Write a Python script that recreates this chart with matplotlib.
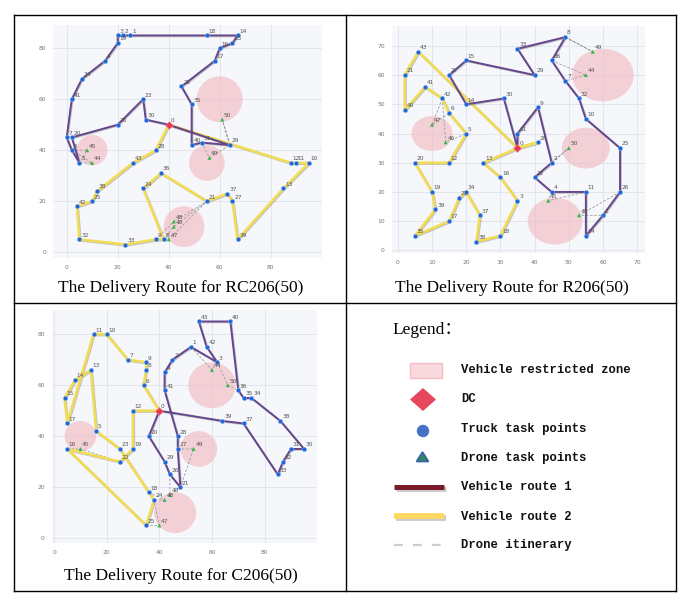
import matplotlib
matplotlib.use('Agg')
import matplotlib.pyplot as plt
from matplotlib.patches import Ellipse, Rectangle, Polygon, Circle
import matplotlib.patheffects as pe

W, H = 691, 603

# ---------------- data ----------------
zone_x = [60, 55, 10, 46]
zone_y = [60, 35, 40, 10]
zone_r = [9, 7, 6, 8]

# RC206(50)
rc_ids = [0, 1, 2, 3, 4, 5, 6, 7, 8, 9, 10, 11, 12, 13, 14, 15, 16, 17, 18, 19, 20, 21, 22, 23, 24, 25,
          26, 27, 28, 29, 30, 31, 32, 33, 34, 35, 36, 37, 38, 39, 40, 41, 42, 43, 44, 45, 46, 47, 48, 49, 50]
rc_x = [40, 25, 22, 20, 15, 5, 2, 0, 38, 35, 95, 90, 88, 85, 67, 65, 60, 58, 55, 20, 2, 55, 45, 30, 30, 10,
        20, 65, 35, 64, 31, 53, 5, 23, 6, 49, 37, 63, 12, 67, 49, 2, 4, 26, 10, 8, 42, 40, 42, 56, 61]
rc_y = [50, 85, 85, 85, 75, 35, 40, 45, 5, 5, 35, 35, 35, 25, 85, 82, 80, 75, 85, 82, 45, 20, 65, 60, 25, 20,
        50, 20, 40, 42, 52, 43, 5, 3, 68, 58, 31, 23, 24, 5, 42, 60, 18, 35, 35, 40, 10, 5, 12, 37, 52]
rc_route1 = [0, 29, 31, 40, 35, 22, 17, 16, 15, 14, 18, 1, 2, 3, 19, 4, 34, 41, 7, 6, 5, 20, 26, 23, 30, 0]
rc_route2 = [0, 28, 43, 38, 25, 42, 32, 33, 9, 8, 24, 36, 21, 37, 27, 39, 13, 10, 11, 12, 0]
rc_drones = [44, 45, 46, 47, 48, 49, 50]
rc_sorties = [(29, 50, 29), (31, 49, 29), (6, 45, 5), (6, 44, 5), (9, 48, 21), (8, 46, 21), (8, 47, 21)]

# R206(50)
r_ids = [0, 1, 2, 3, 4, 5, 6, 7, 8, 9, 10, 11, 12, 13, 14, 15, 16, 17, 18, 19, 20, 21, 22, 23, 24, 25,
         26, 27, 28, 29, 30, 31, 32, 33, 34, 35, 36, 37, 38, 39, 40, 41, 42, 43, 44, 45, 46, 47, 48, 49, 50]
r_x = [35, 60, 45, 35, 45, 20, 15, 49, 49, 41, 55, 55, 15, 25, 20, 20, 30, 15, 30, 10, 5, 2, 40, 18, 55, 65,
       65, 15, 41, 40, 31, 35, 53, 35, 20, 5, 45, 24, 23, 11, 2, 8, 13, 6, 55, 44, 14, 10, 53, 57, 50]
r_y = [35, 12, 30, 17, 20, 40, 47, 58, 73, 49, 45, 20, 30, 30, 50, 65, 25, 10, 5, 20, 30, 60, 25, 18, 5, 35,
       20, 60, 37, 60, 52, 40, 52, 69, 20, 5, 65, 12, 3, 14, 48, 56, 52, 68, 60, 17, 37, 43, 12, 68, 35]
r_route1 = [0, 31, 9, 2, 22, 4, 11, 24, 1, 26, 25, 10, 32, 7, 36, 8, 33, 29, 15, 27, 14, 30, 0]
r_route2 = [0, 28, 0, 43, 21, 40, 41, 42, 6, 5, 12, 20, 19, 39, 35, 17, 23, 34, 37, 38, 18, 3, 16, 13, 0]
r_drones = [44, 45, 46, 47, 48, 49, 50]
r_sorties = [(8, 49, 8), (36, 44, 7), (2, 50, 2), (4, 45, 11), (26, 48, 1), (42, 47, 6), (42, 46, 5)]

# C206(50)
c_ids = [0, 1, 2, 3, 4, 5, 6, 7, 8, 9, 10, 11, 12, 13, 14, 15, 16, 17, 18, 19, 20, 21, 22, 23, 24, 25,
         26, 27, 28, 29, 30, 31, 32, 33, 34, 35, 36, 37, 38, 39, 40, 41, 42, 43, 44, 45, 46, 47, 48, 49, 50]
c_x = [40, 52, 45, 62, 42, 16, 34, 28, 35, 35, 20, 15, 30, 14, 8, 4, 5, 5, 36, 30, 36, 48, 25, 25, 38, 35,
       44, 47, 47, 42, 95, 90, 87, 85, 75, 72, 70, 72, 86, 64, 67, 42, 58, 55, 60, 10, 42, 40, 44, 53, 66]
c_y = [50, 75, 70, 69, 65, 42, 60, 70, 66, 69, 80, 80, 50, 66, 62, 55, 35, 45, 18, 35, 40, 20, 30, 35, 15, 5,
       25, 35, 40, 30, 35, 35, 30, 25, 55, 55, 58, 45, 46, 46, 85, 58, 75, 85, 66, 35, 15, 5, 17, 35, 60]
c_route1 = [0, 20, 29, 26, 21, 27, 28, 41, 4, 2, 1, 3, 42, 43, 40, 36, 35, 34, 38, 30, 31, 32, 33, 37, 39, 0]
c_route2 = [0, 6, 8, 9, 7, 10, 11, 17, 15, 14, 13, 5, 23, 18, 24, 25, 16, 22, 19, 12, 0]
c_drones = [44, 45, 46, 47, 48, 49, 50]
c_sorties = [(1, 44, 3), (3, 50, 36), (27, 49, 21), (26, 48, 21), (18, 46, 24), (25, 47, 24), (16, 45, 22)]

titles = ["The Delivery Route for RC206(50)", "The Delivery Route for R206(50)", "The Delivery Route for C206(50)"]

legend_labels = ["Vehicle restricted zone", "DC", "Truck task points", "Drone task points",
                 "Vehicle route 1", "Vehicle route 2", "Drone itinerary"]

# ---------------- styles ----------------
BG = '#f5f7fa'
GRID = '#e2e6ec'
PURPLE = '#66468c'
YELLOW = '#f2dc55'
TRUCK = '#1f63d6'
DRONE = '#33b54a'
DCCOL = '#e8384f'
ZONE = '#f3b7bf'

fig = plt.figure(figsize=(W / 100, H / 100), dpi=100)

# overlay in pixel coordinates for the table frame, titles and legend
ov = fig.add_axes([0, 0, 1, 1])
ov.set_xlim(0, W)
ov.set_ylim(H, 0)
ov.axis('off')


def px_axes(l, t, r, b):
    return fig.add_axes([l / W, 1 - b / H, (r - l) / W, (b - t) / H])


def draw_panel(ax, ids, xs, ys, route1, route2, drones, sorties, xlim, ylim, xticks, yticks):
    pos = {i: (x, y) for i, x, y in zip(ids, xs, ys)}
    ax.set_facecolor(BG)
    for s in ax.spines.values():
        s.set_visible(False)
    ax.set_xlim(*xlim)
    ax.set_ylim(*ylim)
    ax.set_xticks(xticks)
    ax.set_yticks(yticks)
    ax.grid(True, color=GRID, lw=0.7)
    ax.set_axisbelow(True)
    ax.tick_params(length=0, labelsize=4.3, labelcolor='#777777', pad=5)
    for zx, zy, zr in zip(zone_x, zone_y, zone_r):
        ax.add_patch(Ellipse((zx, zy), 2 * zr, 2 * zr, facecolor=ZONE, edgecolor='none', alpha=0.6, zorder=1))
    # drone sorties
    for a, d, b in sorties:
        ax.plot([pos[a][0], pos[d][0], pos[b][0]], [pos[a][1], pos[d][1], pos[b][1]],
                color='#9a9a9a', lw=0.6, ls=(0, (3, 2)), zorder=2)
    shadow = [pe.SimpleLineShadow(offset=(0.6, -0.6), shadow_color='#808080', alpha=0.45), pe.Normal()]
    r2x = [pos[i][0] for i in route2]
    r2y = [pos[i][1] for i in route2]
    ax.plot(r2x, r2y, color=YELLOW, lw=1.9, zorder=3, solid_capstyle='round', path_effects=shadow)
    r1x = [pos[i][0] for i in route1]
    r1y = [pos[i][1] for i in route1]
    ax.plot(r1x, r1y, color=PURPLE, lw=1.4, zorder=4, solid_capstyle='round', path_effects=shadow)
    trucks = [i for i in ids if i != 0 and i not in drones]
    ax.scatter([pos[i][0] for i in trucks], [pos[i][1] for i in trucks], s=9, color=TRUCK,
               edgecolor='#7fb2f0', linewidth=0.4, zorder=5)
    ax.scatter([pos[i][0] for i in drones], [pos[i][1] for i in drones], s=8, marker='^', color=DRONE,
               edgecolor='none', zorder=5)
    ax.scatter([pos[0][0]], [pos[0][1]], s=16, marker='D', color=DCCOL, edgecolor='#f58a98',
               linewidth=0.4, zorder=6)
    for i in ids:
        ax.annotate(str(i), pos[i], xytext=(1.2, 1.2), textcoords='offset points', fontsize=4.2,
                    color='#555555', ha='left', va='bottom', zorder=7)


ax1 = px_axes(53.3, 25, 321.7, 258.3)
draw_panel(ax1, rc_ids, rc_x, rc_y, rc_route1, rc_route2, rc_drones, rc_sorties,
           (-5.25, 100), (-2.4, 89.1), [0, 20, 40, 60, 80], [0, 20, 40, 60, 80])

ax2 = px_axes(391.7, 26, 645, 253.3)
draw_panel(ax2, r_ids, r_x, r_y, r_route1, r_route2, r_drones, r_sorties,
           (-1.8, 72.3), (-1.0, 76.8), [0, 10, 20, 30, 40, 50, 60, 70], [0, 10, 20, 30, 40, 50, 60, 70])

ax3 = px_axes(51.7, 310, 316.7, 543.3)
draw_panel(ax3, c_ids, c_x, c_y, c_route1, c_route2, c_drones, c_sorties,
           (-0.9, 99.8), (-2.0, 89.5), [0, 20, 40, 60, 80], [0, 20, 40, 60, 80])

# ---------------- table frame ----------------
L, R, T, B, MX, MY = 14.5, 676, 15, 591, 346, 303
fl = dict(color='black', lw=1.0, solid_capstyle='projecting')
ov.plot([L, R], [T, T], **fl)
ov.plot([L, R], [B, B], **fl)
ov.plot([L, L], [T, B], **fl)
ov.plot([R, R], [T, B], **fl)
ov.plot([MX, MX], [T, B], **fl)
ov.plot([L, R], [MY, MY], **fl)

serif = ['Liberation Serif', 'DejaVu Serif']
ov.text(181, 288, titles[0], fontsize=12.5, family=serif, ha='center', va='center')
ov.text(512, 288, titles[1], fontsize=12.5, family=serif, ha='center', va='center')
ov.text(181, 576, titles[2], fontsize=12.5, family=serif, ha='center', va='center')

# ---------------- legend ----------------
ov.text(392, 330, "Legend：", fontsize=12.5, family=['Liberation Serif', 'Noto Sans CJK SC'],
        ha='left', va='center')
mono = dict(fontsize=8.8, family=['Liberation Mono', 'DejaVu Sans Mono'], weight='bold',
            ha='left', va='center', color='#111111')
rows_y = [370, 399.5, 429, 458, 487, 516.5, 545]
for yy, lab in zip(rows_y, legend_labels):
    ov.text(461, yy, lab, **mono)

ov.add_patch(Rectangle((410, 362.5), 32, 15, facecolor='#fadade', edgecolor='#f3bcc6', lw=1.0))
ov.add_patch(Polygon([(410, 399.5), (423, 388), (436, 399.5), (423, 411)], closed=True,
                     facecolor='#e5485d', edgecolor='none'))
ov.add_patch(Circle((423, 431), 6.2, facecolor='#4472c4', edgecolor='none'))
ov.add_patch(Polygon([(416.5, 461.5), (422.5, 452), (428.5, 461.5)], closed=True,
                     facecolor='#2e8b57', edgecolor='#3a5fb0', lw=1.2))
lshadow = [pe.SimpleLineShadow(offset=(1.2, -1.5), shadow_color='#999999', alpha=0.5), pe.Normal()]
ov.plot([394, 444], [486.5, 486.5], color='#7b1a28', lw=3.6, solid_capstyle='butt', path_effects=lshadow)
ov.plot([394, 444], [516, 516], color='#ffd960', lw=4.2, solid_capstyle='butt', path_effects=lshadow)
ov.plot([394, 444], [545, 545], color='#cccccc', lw=1.6, ls=(0, (4, 4.5)))

fig.savefig('out.png', dpi=100)
